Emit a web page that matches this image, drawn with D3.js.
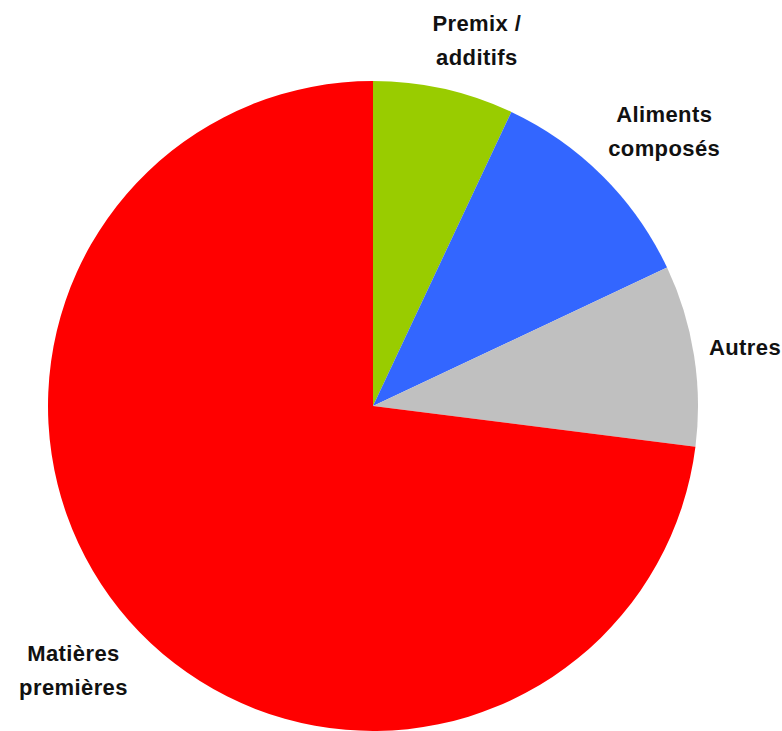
<!DOCTYPE html>
<html>
<head>
<meta charset="utf-8">
<script src="https://cdn.jsdelivr.net/npm/d3@7"></script>
<style>
  html, body { margin: 0; padding: 0; background: #fff; }
  svg { display: block; }
  .lbl { font-family: "Liberation Sans", Arial, sans-serif; font-weight: bold; font-size: 22px; letter-spacing: 0.4px; fill: #111; }
</style>
</head>
<body>
<svg id="chart" width="782" height="731"></svg>
<script>
// Parts of the total, clockwise from 12 o'clock
const categories = [["Premix /", "additifs"], ["Aliments", "composés"], ["Autres"], ["Matières", "premières"]];
const values = [7, 11, 9, 73];
const colors = ["#99CC00", "#3366FF", "#C0C0C0", "#FF0000"];

const cx = 373, cy = 406, R = 325;
const lineH = 34, pad = 14;

const svg = d3.select("#chart");
const g = svg.append("g").attr("transform", `translate(${cx},${cy})`);

const data = values.map((v, i) => ({ v, i }));
const pie = d3.pie().value(d => d.v).sort(null);
const arcs = pie(data);
const arc = d3.arc().innerRadius(0).outerRadius(R);

g.selectAll("path.slice")
  .data(arcs)
  .join("path")
  .attr("class", "slice")
  .attr("d", arc)
  .attr("fill", d => colors[d.data.i]);

// Labels sit outside each slice, pushed out along the middle angle
// until the text box clears the rim
arcs.forEach(a => {
  const lines = categories[a.data.i];
  const t = g.append("text").attr("class", "lbl").attr("text-anchor", "middle");
  lines.forEach((s, k) => {
    t.append("tspan").attr("x", 0).attr("y", k * lineH).text(s);
  });
  const bb = t.node().getBBox();
  // labels near the top lean a little clockwise, away from the upright edge
  const mid = (a.startAngle + a.endAngle) / 2;
  const c = Math.max(0, Math.cos(mid));
  const ang = mid + 0.06 * c * c;
  const sx = Math.sin(ang), sy = -Math.cos(ang);
  const dist = R + pad + (bb.width / 2) * Math.abs(sx) + (bb.height / 2) * Math.abs(sy);
  const px = dist * sx, py = dist * sy;
  const bcx = bb.x + bb.width / 2, bcy = bb.y + bb.height / 2;
  t.attr("transform", `translate(${px - bcx},${py - bcy})`);
});
</script>
</body>
</html>
